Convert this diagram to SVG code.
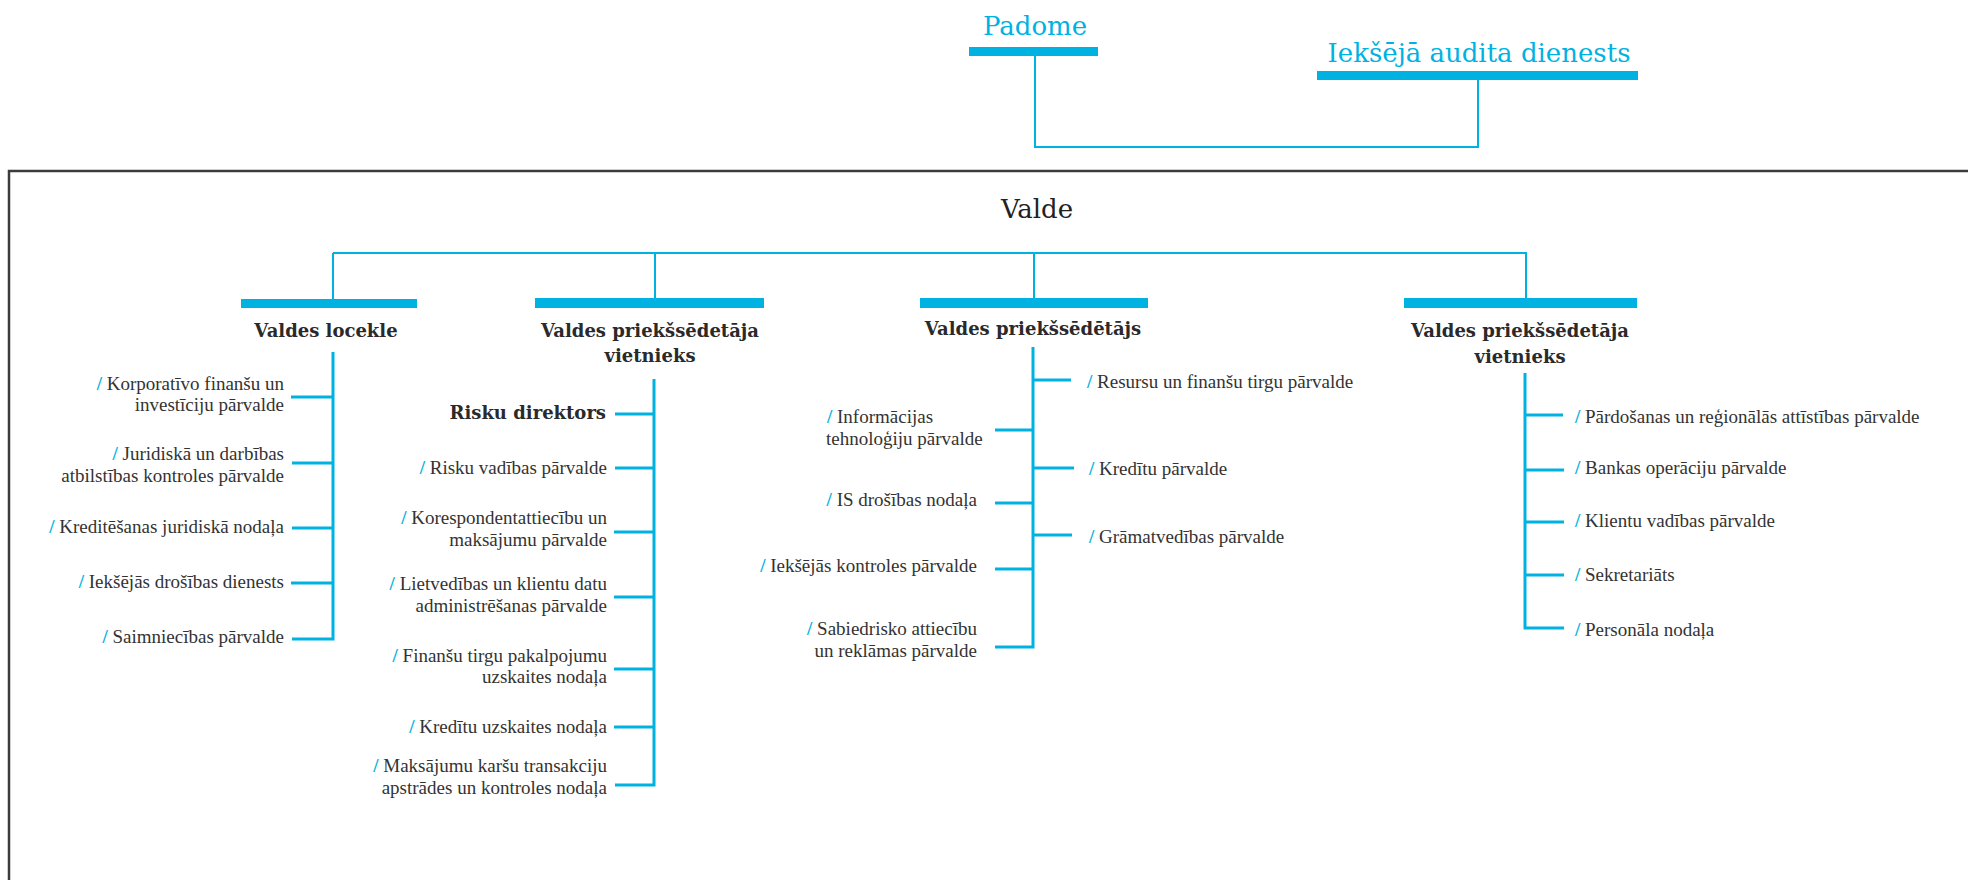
<svg xmlns="http://www.w3.org/2000/svg" width="1968" height="880" viewBox="0 0 1968 880">
<style>
.bar{fill:#00b2e2}
.c1{fill:none;stroke:#00b2e2;stroke-width:2}
.c2{fill:none;stroke:#00b2e2;stroke-width:3}
.top{font-family:"DejaVu Serif",serif;font-size:26px;fill:#00b2e2;text-anchor:middle}
.valde{font-family:"DejaVu Serif",serif;font-size:26px;fill:#222;text-anchor:middle}
.head{font-family:"DejaVu Serif",serif;font-weight:bold;font-size:18px;fill:#2a2a2a;text-anchor:middle}
.bold{font-family:"DejaVu Serif",serif;font-weight:bold;font-size:18px;fill:#2a2a2a;text-anchor:end}
.it{font-family:"Liberation Serif",serif;font-size:19px;fill:#333}
.r{text-anchor:end}
.s{fill:#00b2e2;font-weight:bold}
</style>
<rect x="0" y="0" width="1968" height="880" fill="#fff"/>
<rect x="9" y="171" width="2000" height="800" fill="none" stroke="#3c3c3c" stroke-width="2.5"/>

<g id="connectors">
<path class="c1" d="M1035 56V147H1478V80"/>
<path class="c1" d="M333 253H1527M333 253V299M655 253V298M1034 253V298M1526 253V298"/>
<path class="c2" d="M333 352V640.5M291 397H333M292 463H333M292 528H333M291 583H333M292 639H333"/>
<path class="c2" d="M654 379V786.5M615 414H654M615 468H654M614 532H654M614 597H654M614 669H654M614 727H654M615 785H654"/>
<path class="c2" d="M1033 347V648.5M1033 380H1071M1033 468H1074M1033 535H1072M995 430H1033M995 503H1033M995 569H1033M995 647H1033"/>
<path class="c2" d="M1525 373V629.5M1525 415H1563M1525 470H1564M1525 522H1564M1525 575H1564M1525 628H1564"/>
</g>

<g id="padome">
<text class="top" x="1035" y="35">Padome</text>
<rect class="bar" x="969" y="47" width="129" height="9"/>
</g>
<g id="iekseja-audita-dienests">
<text class="top" x="1479" y="62">Iekšējā audita dienests</text>
<rect class="bar" x="1317" y="71" width="321" height="9"/>
</g>

<g id="valde">
<text class="valde" x="1037" y="218">Valde</text>
</g>

<g id="valdes-loceklis">
<rect class="bar" x="241" y="299" width="176" height="9"/>
<text class="head" x="326" y="337">Valdes locekle</text>
</g>
<g id="vietnieks-1">
<rect class="bar" x="535" y="298" width="229" height="10"/>
<text class="head" x="650" y="337">Valdes priekšsēdetāja</text>
<text class="head" x="650" y="362">vietnieks</text>
</g>
<g id="priekssedetajs">
<rect class="bar" x="920" y="298" width="228" height="10"/>
<text class="head" x="1033" y="335">Valdes priekšsēdētājs</text>
</g>
<g id="vietnieks-2">
<rect class="bar" x="1404" y="298" width="233" height="10"/>
<text class="head" x="1520" y="337">Valdes priekšsēdetāja</text>
<text class="head" x="1520" y="363">vietnieks</text>
</g>

<g id="b1-items">
<text class="it r" x="284" y="390"><tspan class="s">/</tspan> Korporatīvo finanšu un</text>
<text class="it r" x="284" y="411">investīciju pārvalde</text>
<text class="it r" x="284" y="460"><tspan class="s">/</tspan> Juridiskā un darbības</text>
<text class="it r" x="284" y="482">atbilstības kontroles pārvalde</text>
<text class="it r" x="284" y="533"><tspan class="s">/</tspan> Kreditēšanas juridiskā nodaļa</text>
<text class="it r" x="284" y="588"><tspan class="s">/</tspan> Iekšējās drošības dienests</text>
<text class="it r" x="284" y="643"><tspan class="s">/</tspan> Saimniecības pārvalde</text>
</g>

<g id="b2-items">
<text class="bold" x="606" y="419">Risku direktors</text>
<text class="it r" x="607" y="474"><tspan class="s">/</tspan> Risku vadības pārvalde</text>
<text class="it r" x="607" y="524"><tspan class="s">/</tspan> Korespondentattiecību un</text>
<text class="it r" x="607" y="546">maksājumu pārvalde</text>
<text class="it r" x="607" y="590"><tspan class="s">/</tspan> Lietvedības un klientu datu</text>
<text class="it r" x="607" y="612">administrēšanas pārvalde</text>
<text class="it r" x="607" y="662"><tspan class="s">/</tspan> Finanšu tirgu pakalpojumu</text>
<text class="it r" x="607" y="683">uzskaites nodaļa</text>
<text class="it r" x="607" y="733"><tspan class="s">/</tspan> Kredītu uzskaites nodaļa</text>
<text class="it r" x="607" y="772"><tspan class="s">/</tspan> Maksājumu karšu transakciju</text>
<text class="it r" x="607" y="794">apstrādes un kontroles nodaļa</text>
</g>

<g id="b3-items">
<text class="it" x="1087" y="388"><tspan class="s">/</tspan> Resursu un finanšu tirgu pārvalde</text>
<text class="it" x="1089" y="475"><tspan class="s">/</tspan> Kredītu pārvalde</text>
<text class="it" x="1089" y="543"><tspan class="s">/</tspan> Grāmatvedības pārvalde</text>
<text class="it" x="827" y="423"><tspan class="s">/</tspan> Informācijas</text>
<text class="it" x="826" y="445">tehnoloģiju pārvalde</text>
<text class="it r" x="977" y="506"><tspan class="s">/</tspan> IS drošības nodaļa</text>
<text class="it r" x="977" y="572"><tspan class="s">/</tspan> Iekšējās kontroles pārvalde</text>
<text class="it r" x="977" y="635"><tspan class="s">/</tspan> Sabiedrisko attiecību</text>
<text class="it r" x="977" y="657">un reklāmas pārvalde</text>
</g>

<g id="b4-items">
<text class="it" x="1575" y="423"><tspan class="s">/</tspan> Pārdošanas un reģionālās attīstības pārvalde</text>
<text class="it" x="1575" y="474"><tspan class="s">/</tspan> Bankas operāciju pārvalde</text>
<text class="it" x="1575" y="527"><tspan class="s">/</tspan> Klientu vadības pārvalde</text>
<text class="it" x="1575" y="581"><tspan class="s">/</tspan> Sekretariāts</text>
<text class="it" x="1575" y="636"><tspan class="s">/</tspan> Personāla nodaļa</text>
</g>
</svg>
